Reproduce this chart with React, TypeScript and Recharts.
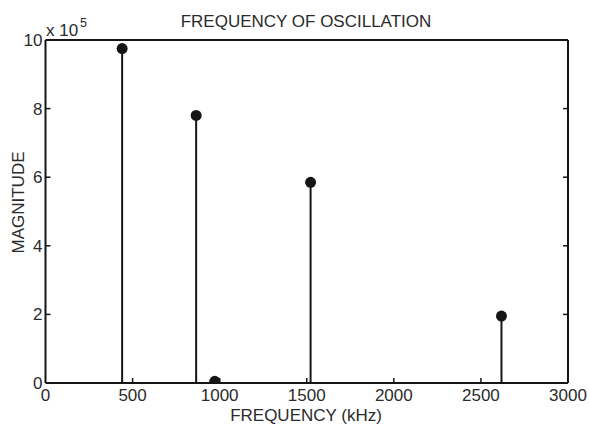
import { ComposedChart, Scatter, XAxis, YAxis, ReferenceLine } from "recharts";

// stem plot values (magnitude in units of 10^5)
const freqKHz = [440, 865, 972, 1522, 2618];
const magnitude = [9.75, 7.8, 0.05, 5.85, 1.95];
const xTicks = [0, 500, 1000, 1500, 2000, 2500, 3000];
const yTicks = [0, 2, 4, 6, 8, 10];

const points = freqKHz.map((f, i) => ({ f, m: magnitude[i] }));

const W = 589;
const H = 427;
const ink = "#151515";
const textColor = "#2b2b2b";
const font = "'Liberation Sans', Arial, sans-serif";
const TICK = 5;
const GAP = 6;

const Dot = (props: any) => <circle cx={props.cx} cy={props.cy} r={5.5} fill={ink} />;

// bottom axis: label below, small tick pointing into the plot
const BottomTick = (p: any) => {
  const axisY = p.y - GAP;
  const v = p.payload.value;
  const inner = v !== 0 && v !== 3000;
  return (
    <g>
      {inner && <line x1={p.x} x2={p.x} y1={axisY} y2={axisY - TICK} stroke={ink} strokeWidth={1.5} />}
      <text x={p.x} y={p.y} dy="0.71em" textAnchor="middle" fontSize={17} fontFamily={font} fill={textColor}>{v}</text>
    </g>
  );
};

const LeftTick = (p: any) => {
  const axisX = p.x + 3;
  const v = p.payload.value;
  const inner = v !== 0 && v !== 10;
  return (
    <g>
      {inner && <line x1={axisX} x2={axisX + TICK} y1={p.y} y2={p.y} stroke={ink} strokeWidth={1.5} />}
      <text x={p.x} y={p.y} dy="0.355em" textAnchor="end" fontSize={17} fontFamily={font} fill={textColor}>{v}</text>
    </g>
  );
};

const TopTick = (p: any) => {
  const v = p.payload.value;
  if (v === 0 || v === 3000) return <g />;
  return <line x1={p.x} x2={p.x} y1={p.y} y2={p.y + TICK} stroke={ink} strokeWidth={1.5} />;
};

const RightTick = (p: any) => {
  const v = p.payload.value;
  if (v === 0 || v === 10) return <g />;
  return <line x1={p.x} x2={p.x - TICK} y1={p.y} y2={p.y} stroke={ink} strokeWidth={1.5} />;
};

export default function App() {
  return (
    <div style={{ position: "absolute", left: 0, top: 0, width: W, height: H, background: "#fff" }}>
      <ComposedChart width={W} height={H} data={points} margin={{ top: 40, right: 21, bottom: 0, left: 0 }}>
        <XAxis
          xAxisId="b"
          dataKey="f"
          type="number"
          domain={[0, 3000]}
          ticks={xTicks}
          allowDataOverflow
          height={44}
          tickLine={false}
          tickSize={0}
          tickMargin={GAP}
          tick={BottomTick}
          axisLine={{ stroke: ink, strokeWidth: 2 }}
        />
        <XAxis
          xAxisId="t"
          type="number"
          orientation="top"
          mirror
          domain={[0, 3000]}
          ticks={xTicks}
          allowDataOverflow
          tickLine={false}
          tickSize={0}
          tickMargin={0}
          tick={TopTick}
          axisLine={{ stroke: ink, strokeWidth: 2 }}
        />
        <YAxis
          yAxisId="l"
          type="number"
          domain={[0, 10]}
          ticks={yTicks}
          allowDataOverflow
          width={45.5}
          tickLine={false}
          tickSize={0}
          tickMargin={3}
          tick={LeftTick}
          axisLine={{ stroke: ink, strokeWidth: 2 }}
        />
        <YAxis
          yAxisId="r"
          type="number"
          orientation="right"
          mirror
          domain={[0, 10]}
          ticks={yTicks}
          allowDataOverflow
          tickLine={false}
          tickSize={0}
          tickMargin={0}
          tick={RightTick}
          axisLine={{ stroke: ink, strokeWidth: 2 }}
        />
        {points.map((p) => (
          <ReferenceLine
            key={p.f}
            xAxisId="b"
            yAxisId="l"
            segment={[{ x: p.f, y: 0 }, { x: p.f, y: p.m }]}
            stroke={ink}
            strokeWidth={2}
          />
        ))}
        <Scatter
          xAxisId="b"
          yAxisId="l"
          dataKey="m"
          shape={Dot}
          isAnimationActive={false}
        />
      </ComposedChart>
      <svg
        width={W}
        height={H}
        style={{ position: "absolute", left: 0, top: 0, pointerEvents: "none" }}
      >
        <g fontFamily={font} fill={textColor}>
          <text x={306} y={27} fontSize={17} textAnchor="middle">FREQUENCY OF OSCILLATION</text>
          <text x={46} y={36} fontSize={17}>x 10</text>
          <text x={80} y={27} fontSize={12.5}>5</text>
          <text x={306} y={421} fontSize={17} textAnchor="middle">FREQUENCY (kHz)</text>
          <text transform="translate(24,202.5) rotate(-90)" fontSize={17} textAnchor="middle">MAGNITUDE</text>
        </g>
      </svg>
    </div>
  );
}
